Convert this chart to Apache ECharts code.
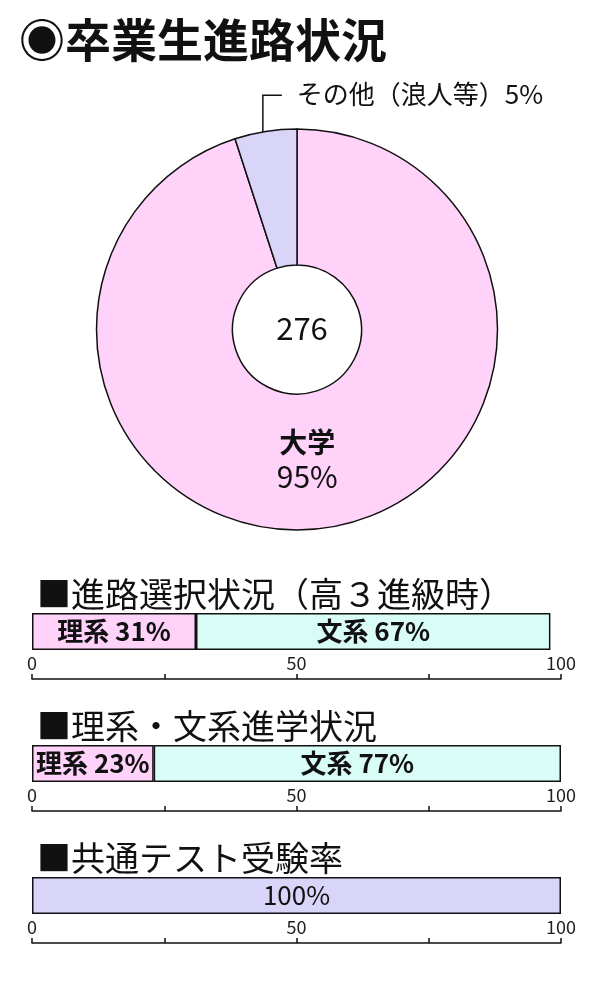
<!DOCTYPE html>
<html>
<head>
<meta charset="utf-8">
<title>卒業生進路状況</title>
<script src="https://cdn.jsdelivr.net/npm/echarts@6/dist/echarts.min.js"></script>
<style>
html, body {
	margin: 0;
	padding: 0;
	background: #fff;
}
#chart {
	width: 600px;
	height: 1000px;
}
</style>
</head>
<body>
<div id="chart"></div>
<script type="text/javascript">
    // data
    var pieNames = ['大学', 'その他（浪人等）'];
    var pieValues = [95, 5];
    var graduates = 276;

    var sectionTitles = ['■進路選択状況（高３進級時）', '■理系・文系進学状況', '■共通テスト受験率'];
    var fieldNames = ['理系', '文系'];
    var choiceValues = [31, 67];   // 高3進級時
    var entryValues = [23, 77];    // 進学
    var testValues = [100];        // 共通テスト
    var scaleLabels = [0, 50, 100];

    var FONT = '"Noto Sans CJK JP", "Noto Sans", sans-serif';
    var PINK = '#ffd2fa';
    var CYAN = '#d9fcf6';
    var LAVENDER = '#d9d5f9';
    var INK = '#111';

    var chart = echarts.init(document.getElementById('chart'));

    // one grid per bar section
    var gridTops = [613, 745, 877];
    var grids = [], xAxes = [], yAxes = [];
    gridTops.forEach(function (top, i) {
        grids.push({left: 32, width: 529, top: top, height: 37});
        xAxes.push({
            gridIndex: i, type: 'value', min: 0, max: 100, interval: 25,
            offset: 29,
            axisLine: {show: true, onZero: false, lineStyle: {color: INK, width: 1.5}},
            axisTick: {show: true, inside: true, length: 5, lineStyle: {color: INK, width: 1.5}},
            axisLabel: {
                inside: true, margin: 7, fontSize: 18, color: '#222', fontFamily: FONT,
                showMinLabel: true, showMaxLabel: true,
                formatter: function (v) { return scaleLabels.indexOf(v) >= 0 ? String(v) : ''; }
            },
            splitLine: {show: false}
        });
        yAxes.push({gridIndex: i, type: 'category', data: [''], show: false});
    });

    function barSeries(idx, name, value, color, bold, withName) {
        return {
            type: 'bar', name: name, stack: 's' + idx,
            xAxisIndex: idx, yAxisIndex: idx,
            barWidth: '100%',
            data: [value],
            itemStyle: {color: color, borderColor: INK, borderWidth: 1.5},
            label: {
                show: true, position: 'inside',
                formatter: withName ? '{a} {c}%' : '{c}%',
                fontSize: 26, fontWeight: bold ? 'bold' : 'normal',
                color: INK, fontFamily: FONT
            }
        };
    }

    var series = [{
        type: 'pie',
        center: [297, 329.5],
        radius: [64.5, 200.5],
        startAngle: 90,
        clockwise: true,
        silent: true,
        itemStyle: {borderColor: INK, borderWidth: 1.5},
        label: {
            show: true, position: 'outside', formatter: '{b}{c}%',
            overflow: 'none', width: 300,
            fontSize: 26, color: INK, fontFamily: FONT
        },
        labelLine: {show: true, lineStyle: {color: INK, width: 1.5}},
        labelLayout: function (p) {
            if (p.dataIndex === 0) {
                return {dx: -11, dy: -4};
            }
            var r = p.rect;
            var lx = r.x + r.width * 0.45;
            var top = r.y - 33;
            return {
                x: lx + 34, y: top - 1, align: 'left', verticalAlign: 'middle',
                labelLinePoints: [[lx, r.y + 30], [lx, top], [lx + 19, top]]
            };
        },
        data: [{
            name: pieNames[0], value: pieValues[0],
            itemStyle: {color: PINK},
            label: {
                position: 'inside',
                formatter: '{n|{b}}\n{v|{c}%}',
                rich: {
                    n: {fontSize: 28, fontWeight: 'bold', lineHeight: 34, color: INK, fontFamily: FONT},
                    v: {fontSize: 30, lineHeight: 34, color: INK, fontFamily: FONT}
                }
            },
            labelLine: {show: false}
        }, {
            name: pieNames[1], value: pieValues[1],
            itemStyle: {color: LAVENDER}
        }]
    },
        barSeries(0, fieldNames[0], choiceValues[0], PINK, true, true),
        barSeries(0, fieldNames[1], choiceValues[1], CYAN, true, true),
        barSeries(1, fieldNames[0], entryValues[0], PINK, true, true),
        barSeries(1, fieldNames[1], entryValues[1], CYAN, true, true),
        barSeries(2, '', testValues[0], LAVENDER, false, false)
    ];

    var option = {
        animation: false,
        textStyle: {fontFamily: FONT},
        title: [{
            text: '◉卒業生進路状況', left: 14, top: 12,
            textStyle: {fontSize: 46, fontWeight: 'bold', color: INK, fontFamily: FONT}
        }, {
            text: String(graduates), left: 297, top: 323, textAlign: 'center', textVerticalAlign: 'middle',
            textStyle: {fontSize: 31, fontWeight: 'normal', color: INK, fontFamily: FONT}
        }, {
            text: sectionTitles[0], left: 32, top: 572,
            textStyle: {fontSize: 34, fontWeight: 'normal', color: INK, fontFamily: FONT}
        }, {
            text: sectionTitles[1], left: 32, top: 704,
            textStyle: {fontSize: 34, fontWeight: 'normal', color: INK, fontFamily: FONT}
        }, {
            text: sectionTitles[2], left: 32, top: 836,
            textStyle: {fontSize: 34, fontWeight: 'normal', color: INK, fontFamily: FONT}
        }],
        grid: grids,
        xAxis: xAxes,
        yAxis: yAxes,
        series: series
    };

    chart.setOption(option);
</script>
</body>
</html>
